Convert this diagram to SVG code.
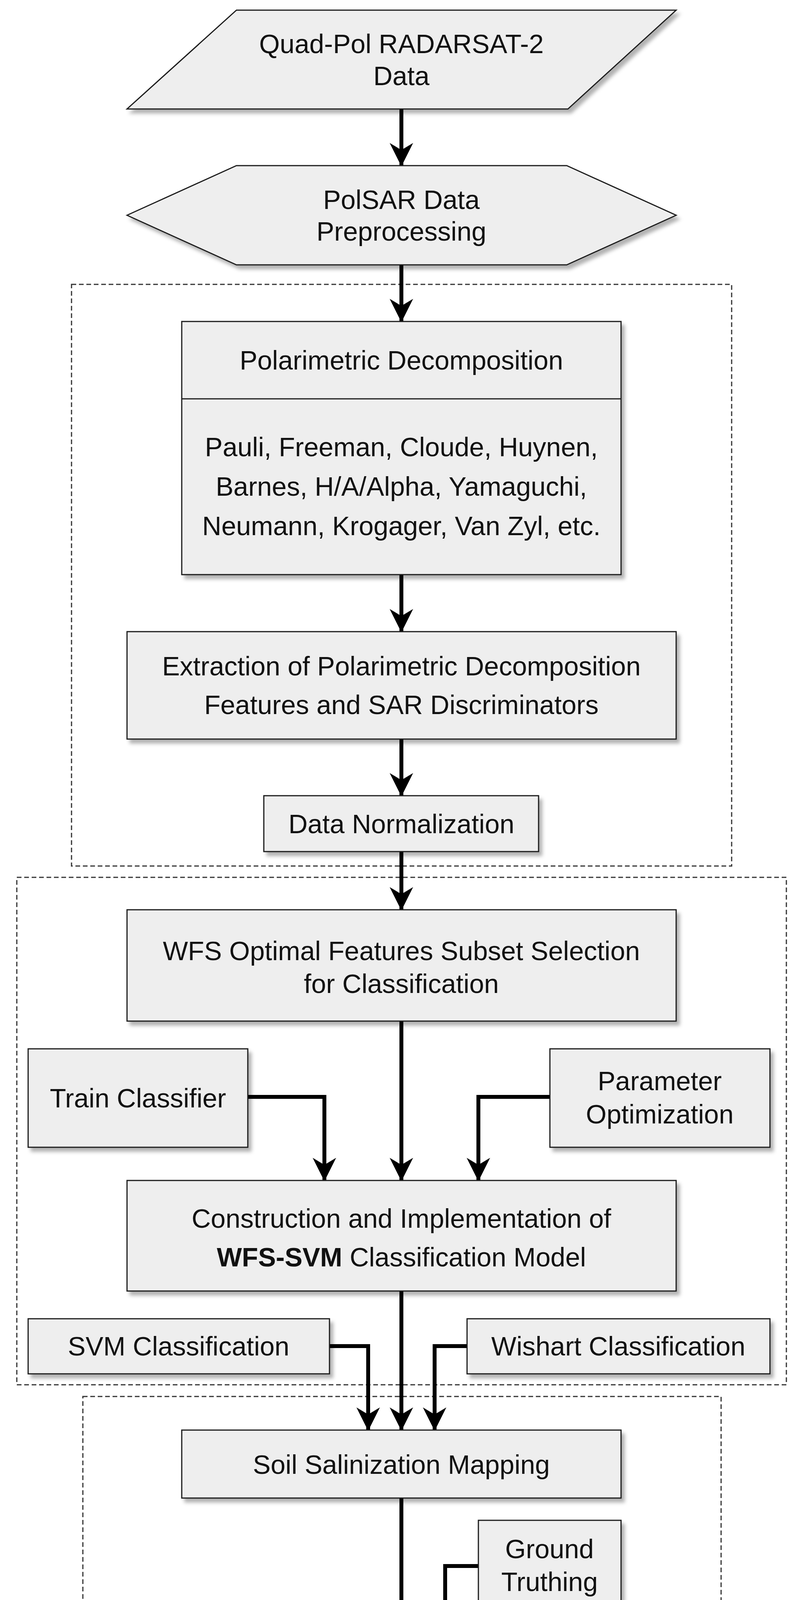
<svg xmlns="http://www.w3.org/2000/svg" width="2052" height="4570" viewBox="0 0 2052 4570">
<style>
.n{fill:#eeeeee;stroke:#1a1a1a;stroke-width:3;filter:url(#sh)}
.t{font-family:"Liberation Sans",Arial,sans-serif;font-size:68px;fill:#111;text-anchor:middle}
.c{fill:none;stroke:#000;stroke-width:10;marker-end:url(#ah)}
.d{fill:none;stroke:#333;stroke-width:3;stroke-dasharray:12 7}
</style>
<defs>
<filter id="sh" x="-10%" y="-10%" width="125%" height="130%"><feDropShadow dx="8" dy="10" stdDeviation="5" flood-color="#000" flood-opacity="0.3"/></filter>
<marker id="ah" markerUnits="userSpaceOnUse" markerWidth="60" markerHeight="64" viewBox="0 0 60 64" refX="58" refY="32" orient="auto"><path d="M0,2 L60,32 L0,62 L18,32 Z" fill="#000"/></marker>
</defs>
<g id="groups">
<rect class="d" x="183" y="728" width="1689" height="1489"/>
<rect class="d" x="43" y="2246" width="1969" height="1299"/>
<rect class="d" x="212" y="3575" width="1633" height="982"/>
</g>
<g id="connectors">
<line class="c" x1="1027" y1="279" x2="1027" y2="424"/>
<line class="c" x1="1027" y1="678" x2="1027" y2="823"/>
<line class="c" x1="1027" y1="1471" x2="1027" y2="1617"/>
<line class="c" x1="1027" y1="1892" x2="1027" y2="2037"/>
<line class="c" x1="1027" y1="2180" x2="1027" y2="2329"/>
<line class="c" x1="1027" y1="2614" x2="1027" y2="3022"/>
<polyline class="c" points="634,2808 830,2808 830,3022"/>
<polyline class="c" points="1407,2808 1224,2808 1224,3022"/>
<line class="c" x1="1027" y1="3305" x2="1027" y2="3661"/>
<polyline class="c" points="843,3446 942,3446 942,3661"/>
<polyline class="c" points="1195,3446 1112,3446 1112,3661"/>
<line class="c" x1="1027" y1="3835" x2="1027" y2="4180"/>
<polyline class="c" points="1224,4009 1139,4009 1139,4180"/>
</g>
<g id="n1"><polygon class="n" points="605,26 1730,26 1453,279 325,279"/>
<text class="t" x="1027" y="136">Quad-Pol RADARSAT-2</text><text class="t" x="1027" y="218">Data</text></g>
<g id="n2"><polygon class="n" points="325,551 605,424 1450,424 1730,551 1450,678 605,678"/>
<text class="t" x="1027" y="535">PolSAR Data</text><text class="t" x="1027" y="616">Preprocessing</text></g>
<g id="n3"><rect class="n" x="465" y="823" width="1124" height="648"/>
<line x1="465" y1="1021" x2="1589" y2="1021" stroke="#1a1a1a" stroke-width="3"/>
<text class="t" x="1027" y="946">Polarimetric Decomposition</text>
<text class="t" x="1027" y="1168">Pauli, Freeman, Cloude, Huynen,</text>
<text class="t" x="1027" y="1269">Barnes, H/A/Alpha, Yamaguchi,</text>
<text class="t" x="1027" y="1370">Neumann, Krogager, Van Zyl, etc.</text></g>
<g id="n4"><rect class="n" x="325" y="1617" width="1405" height="275"/>
<text class="t" x="1027" y="1729">Extraction of Polarimetric Decomposition</text>
<text class="t" x="1027" y="1828">Features and SAR Discriminators</text></g>
<g id="n5"><rect class="n" x="675" y="2037" width="703" height="143"/>
<text class="t" x="1027" y="2133">Data Normalization</text></g>
<g id="n6"><rect class="n" x="325" y="2329" width="1405" height="285"/>
<text class="t" x="1027" y="2458">WFS Optimal Features Subset Selection</text>
<text class="t" x="1027" y="2542">for Classification</text></g>
<g id="n7"><rect class="n" x="72" y="2685" width="562" height="252"/>
<text class="t" x="353" y="2835">Train Classifier</text></g>
<g id="n8"><rect class="n" x="1407" y="2685" width="563" height="252"/>
<text class="t" x="1688" y="2791">Parameter</text><text class="t" x="1688" y="2876">Optimization</text></g>
<g id="n9"><rect class="n" x="325" y="3022" width="1405" height="283"/>
<text class="t" x="1027" y="3143">Construction and Implementation of</text>
<text class="t" x="1027" y="3242"><tspan font-weight="bold">WFS-SVM</tspan> Classification Model</text></g>
<g id="n10"><rect class="n" x="72" y="3376" width="771" height="141"/>
<text class="t" x="457" y="3470">SVM Classification</text></g>
<g id="n11"><rect class="n" x="1195" y="3376" width="775" height="141"/>
<text class="t" x="1582" y="3470">Wishart Classification</text></g>
<g id="n12"><rect class="n" x="465" y="3661" width="1124" height="174"/>
<text class="t" x="1027" y="3773">Soil Salinization Mapping</text></g>
<g id="n13"><rect class="n" x="1224" y="3892" width="365" height="231"/>
<text class="t" x="1406" y="3989">Ground</text><text class="t" x="1406" y="4073">Truthing</text></g>
<g id="n14"><rect class="n" x="325" y="4180" width="1405" height="304" rx="152" ry="152"/>
<text class="t" x="1027" y="4304">Quantitative Comparison and Accuracy</text>
<text class="t" x="1027" y="4403">Analysis</text></g>
</svg>
